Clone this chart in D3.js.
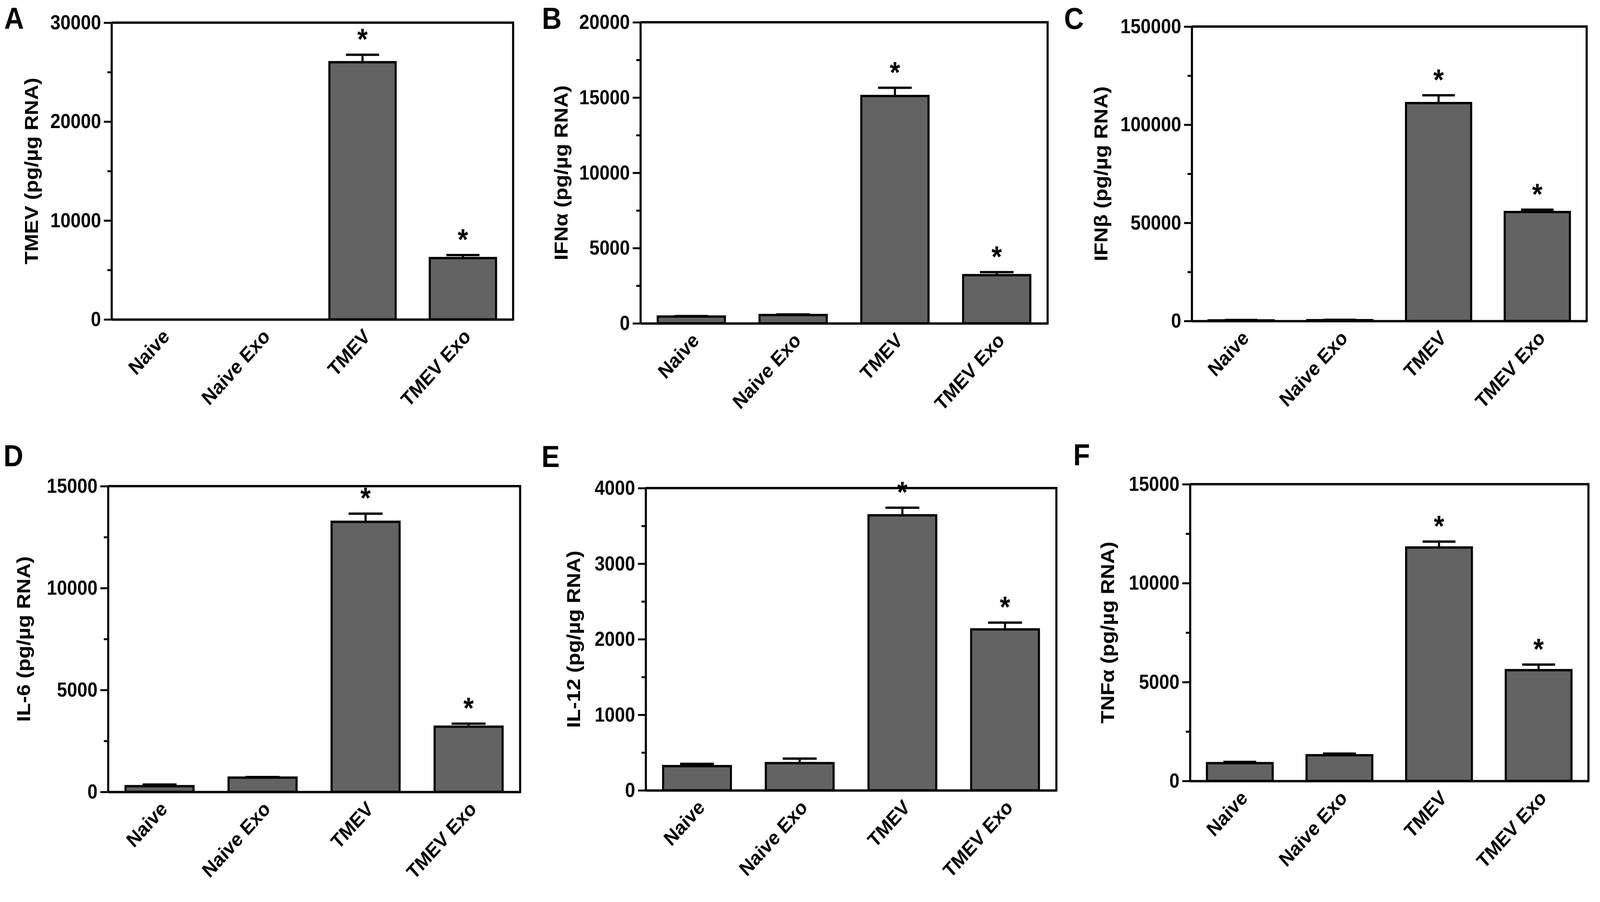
<!DOCTYPE html>
<html>
<head>
<meta charset="utf-8">
<script src="https://cdn.jsdelivr.net/npm/d3@7"></script>
<style>
  html, body { margin: 0; padding: 0; background: #fff; overflow: hidden; }
  #chart svg { display: block; width: 100vw; height: 100vh; }
  text { font-family: "Liberation Sans", Arial, sans-serif; font-weight: bold; fill: #000; }
</style>
</head>
<body>
<div id="chart"></div>
<script>
// groups on the x axis, same for every panel
var categories = ["Naive", "Naive Exo", "TMEV", "TMEV Exo"];

// bar heights (pg/ug RNA)
var tmevValues  = [0, 0, 26000, 6200];
var ifnaValues  = [450, 550, 15100, 3200];
var ifnbValues  = [300, 400, 111000, 55500];
var il6Values   = [280, 700, 13250, 3200];
var il12Values  = [320, 360, 3640, 2130];
var tnfaValues  = [900, 1300, 11800, 5600];

// error bar (upper) sizes
var tmevErr  = [0, 0, 750, 300];
var ifnaErr  = [30, 40, 550, 200];
var ifnbErr  = [200, 200, 4000, 1200];
var il6Err   = [80, 30, 400, 150];
var il12Err  = [30, 60, 100, 90];
var tnfaErr  = [60, 80, 300, 280];

// significance stars
var starFlags = [false, false, true, true];

var panelLetters = ["A", "B", "C", "D", "E", "F"];
var yTitles = ["TMEV (pg/\u00b5g RNA)", "IFN\u03b1 (pg/\u00b5g RNA)", "IFN\u03b2 (pg/\u00b5g RNA)",
               "IL-6 (pg/\u00b5g RNA)", "IL-12 (pg/\u00b5g RNA)", "TNF\u03b1 (pg/\u00b5g RNA)"];
var yMax   = [30000, 20000, 150000, 15000, 4000, 15000];
var yMajor = [10000, 5000, 50000, 5000, 1000, 5000];
var yMinor = [5000, 2500, 25000, 2500, 500, 2500];

var allValues = [tmevValues, ifnaValues, ifnbValues, il6Values, il12Values, tnfaValues];
var allErr    = [tmevErr, ifnaErr, ifnbErr, il6Err, il12Err, tnfaErr];

// frame of each panel: plot box left/right, top/zero, label spots
var frames = [
  {x0: 318,  x1: 1463, y0: 58,   y1: 818,  lx: 12,   ly: 74,   tx: 108},
  {x0: 1826, x1: 2987, y0: 57,   y1: 828,  lx: 1545, ly: 74,   tx: 1618},
  {x0: 3398, x1: 4524, y0: 68,   y1: 822,  lx: 3034, ly: 74,   tx: 3158},
  {x0: 308,  x1: 1483, y0: 1245, y1: 2028, lx: 10,   ly: 1194, tx: 86},
  {x0: 1841, x1: 3012, y0: 1250, y1: 2024, lx: 1544, ly: 1196, tx: 1654},
  {x0: 3393, x1: 4529, y0: 1240, y1: 2000, lx: 3060, ly: 1192, tx: 3176}
];

var W = 4562, H = 2310;
var svg = d3.select("#chart").append("svg")
    .attr("viewBox", "0 0 " + W + " " + H)
    .attr("preserveAspectRatio", "none");

frames.forEach(function(f, i) {
  var g = svg.append("g");

  var x = d3.scaleBand()
    .domain(categories)
    .range([f.x0, f.x1])
    .paddingInner(0.34)
    .paddingOuter(0.17);

  var y = d3.scaleLinear()
    .domain([0, yMax[i]])
    .range([f.y1, f.y0]);

  var data = categories.map(function(c, j) {
    return {cat: c, v: allValues[i][j], e: allErr[i][j], star: starFlags[j]};
  });

  // bars
  g.selectAll(".bar")
    .data(data.filter(function(d) { return d.v > 0; }))
    .enter()
    .append("rect")
      .attr("x", function(d) { return x(d.cat); })
      .attr("y", function(d) { return y(d.v); })
      .attr("width", x.bandwidth())
      .attr("height", function(d) { return y(0) - y(d.v); })
      .style("fill", "#636363")
      .style("stroke", "#000")
      .style("stroke-width", 6);

  // error bars (upper only)
  var capW = x.bandwidth() * 0.5;
  var eb = g.selectAll(".err")
    .data(data.filter(function(d) { return d.v > 0 && d.e > 0; }))
    .enter()
    .append("g");
  eb.append("line")
    .attr("x1", function(d) { return x(d.cat) + x.bandwidth() / 2; })
    .attr("x2", function(d) { return x(d.cat) + x.bandwidth() / 2; })
    .attr("y1", function(d) { return y(d.v); })
    .attr("y2", function(d) { return y(d.v + d.e); })
    .style("stroke", "#000").style("stroke-width", 6);
  eb.append("line")
    .attr("x1", function(d) { return x(d.cat) + x.bandwidth() / 2 - capW / 2; })
    .attr("x2", function(d) { return x(d.cat) + x.bandwidth() / 2 + capW / 2; })
    .attr("y1", function(d) { return y(d.v + d.e); })
    .attr("y2", function(d) { return y(d.v + d.e); })
    .style("stroke", "#000").style("stroke-width", 6);

  // stars
  g.selectAll(".star")
    .data(data.filter(function(d) { return d.star; }))
    .enter()
    .append("text")
      .attr("x", function(d) { return x(d.cat) + x.bandwidth() / 2; })
      .attr("y", function(d) { return y(d.v + d.e) - 14; })
      .attr("text-anchor", "middle")
      .style("font-size", "76px")
      .text("*");

  // box: top and right edges
  g.append("line")
    .attr("x1", f.x0).attr("x2", f.x1).attr("y1", f.y0).attr("y2", f.y0)
    .style("stroke", "#000").style("stroke-width", 6);
  g.append("line")
    .attr("x1", f.x1).attr("x2", f.x1).attr("y1", f.y0 - 3).attr("y2", f.y1 + 3)
    .style("stroke", "#000").style("stroke-width", 6);

  // x axis (baseline only, rotated labels)
  var xAxis = g.append("g")
    .attr("transform", "translate(0," + f.y1 + ")")
    .call(d3.axisBottom(x).tickSize(0).tickSizeOuter(0).tickPadding(0));
  xAxis.select(".domain").style("stroke", "#000").style("stroke-width", 6);
  xAxis.selectAll(".tick text")
    .attr("transform", "translate(12,34) rotate(-45)")
    .attr("text-anchor", "end")
    .attr("dy", "0.35em")
    .attr("y", 0)
    .style("font-size", "52px")
    .style("font-family", "Liberation Sans, Arial, sans-serif")
    .style("font-weight", "bold");

  // y axis minor ticks
  var yMinorAxis = g.append("g")
    .attr("transform", "translate(" + f.x0 + ",0)")
    .call(d3.axisLeft(y).tickValues(d3.range(yMinor[i], yMax[i], yMajor[i])).tickSize(12).tickFormat(""));
  yMinorAxis.select(".domain").remove();
  yMinorAxis.selectAll(".tick line").style("stroke", "#000").style("stroke-width", 5);

  // y axis major ticks
  var yAxis = g.append("g")
    .attr("transform", "translate(" + f.x0 + ",0)")
    .call(d3.axisLeft(y).tickValues(d3.range(0, yMax[i] + 1, yMajor[i])).tickSize(22).tickSizeOuter(0).tickPadding(8).tickFormat(d3.format("d")));
  yAxis.select(".domain").style("stroke", "#000").style("stroke-width", 6);
  yAxis.selectAll(".tick line").style("stroke", "#000").style("stroke-width", 5);
  yAxis.selectAll(".tick text")
    .style("font-size", "52px")
    .style("font-family", "Liberation Sans, Arial, sans-serif")
    .style("font-weight", "bold");

  // y axis title
  g.append("text")
    .attr("transform", "translate(" + f.tx + "," + (f.y0 + f.y1) / 2 + ") rotate(-90)")
    .attr("text-anchor", "middle")
    .style("font-size", "54px")
    .text(yTitles[i]);

  // panel letter
  g.append("text")
    .attr("x", f.lx)
    .attr("y", f.ly)
    .style("font-size", "78px")
    .text(panelLetters[i]);
});
</script>
</body>
</html>
